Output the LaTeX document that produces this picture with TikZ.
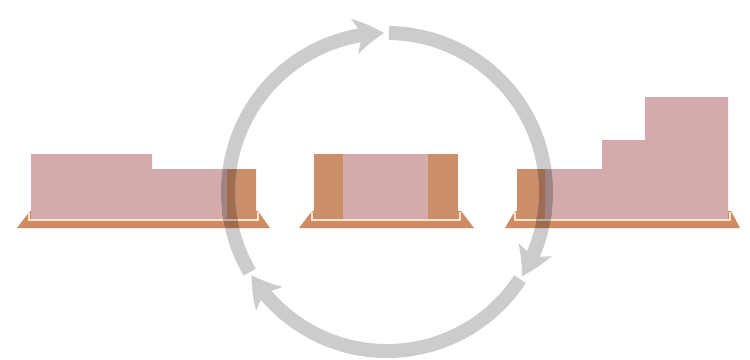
\documentclass[tikz,border=0pt]{standalone}
\usetikzlibrary{arrows.meta,bending}
\definecolor{pinkc}{HTML}{D4AAAC}
\definecolor{orangec}{HTML}{CC8E68}
\definecolor{basec}{HTML}{D08B63}
\definecolor{creamc}{HTML}{FDE5CC}
\definecolor{arcc}{HTML}{CCCCCC}
\definecolor{pinkd}{HTML}{A28385}
\definecolor{oranged}{HTML}{9C6D50}
\definecolor{based}{HTML}{9F6B4C}
\definecolor{creamd}{HTML}{C2AF9C}
\tikzset{
  basetrap/.style={fill=basec, draw=none},
  wall/.style={fill=orangec, draw=none},
  body/.style={fill=pinkc, draw=none},
  rim/.style={draw=creamc, line width=2pt},
  cyclearc/.style={draw=arcc, line width=14pt,
    -{Stealth[length=30pt, width=36pt, inset=8pt, line width=0pt, bend]}},
  units/.pic={
    % left unit
    \fill[basetrap] (17,228) -- (30,211) -- (258,211) -- (270,228) -- cycle;
    \fill[body] (31,154) -- (152,154) -- (152,169) -- (256,169) -- (256,219) -- (31,219) -- cycle;
    \fill[wall] (227,169) rectangle (256,219);
    \draw[rim] (29,212) -- (29,220) -- (258,220) -- (258,212);
    % middle unit
    \fill[basetrap] (299,228) -- (312,211) -- (461,211) -- (474,228) -- cycle;
    \fill[body] (314,154) rectangle (458,219);
    \fill[wall] (314,154) rectangle (343,219);
    \fill[wall] (428,154) rectangle (458,219);
    \draw[rim] (312,212) -- (312,220) -- (460,220) -- (460,212);
    % right unit
    \fill[basetrap] (505,228) -- (515,211) -- (731,211) -- (740,228) -- cycle;
    \fill[body] (517,169) -- (602,169) -- (602,140) -- (645,140) -- (645,97) -- (728,97) -- (728,219) -- (517,219) -- cycle;
    \fill[wall] (517,169) rectangle (545,219);
    \draw[rim] (515,212) -- (515,220) -- (730,220) -- (730,212);
  },
}
\begin{document}
\begin{tikzpicture}[x=1pt, y=-1pt]
\useasboundingbox (0,0) rectangle (750,359);
\pic {units};
% cycle arrows
\coordinate (c) at (387,192);
\path[cyclearc] (c) ++(-89.3:159) arc[start angle=-89.3, end angle=32, radius=159];
\path[cyclearc] (c) ++(33.2:159) arc[start angle=33.2, end angle=148.5, radius=159];
\path[cyclearc] (c) ++(149.7:159) arc[start angle=149.7, end angle=269, radius=159];
% darkened overlap of the ring with the units
\begin{scope}[even odd rule]
  \clip (c) circle[radius=166] (c) circle[radius=152];
  \tikzset{
    basetrap/.style={fill=based, draw=none},
    wall/.style={fill=oranged, draw=none},
    body/.style={fill=pinkd, draw=none},
    rim/.style={draw=creamd, line width=2pt},
  }
  \pic {units};
\end{scope}
\end{tikzpicture}
\end{document}
